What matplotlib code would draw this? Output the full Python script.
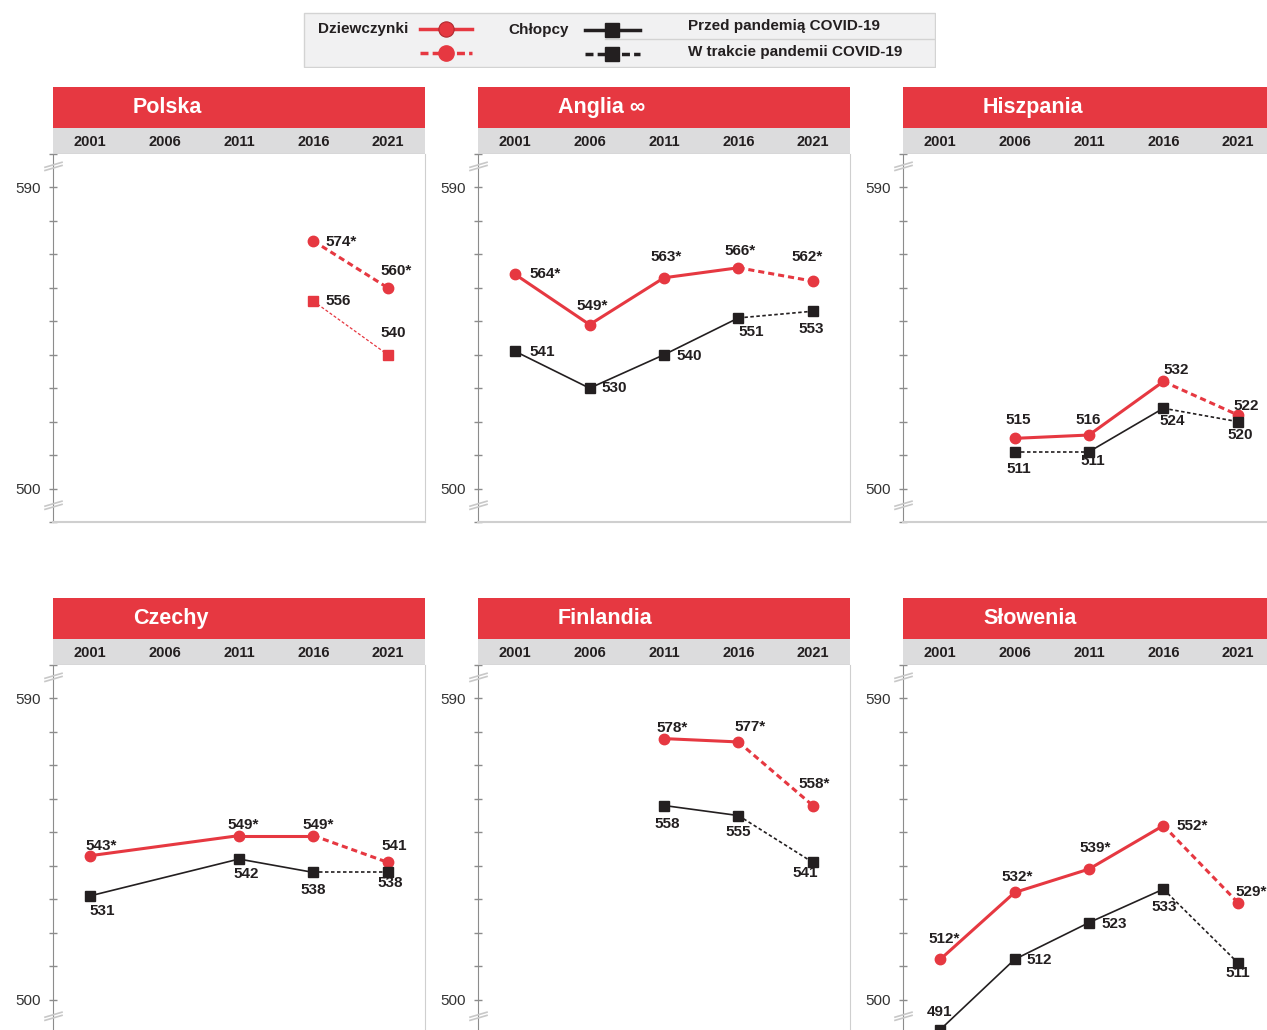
import matplotlib.pyplot as plt
import numpy as np
from matplotlib.patches import Rectangle

plt.rcParams['font.family'] = ['Liberation Sans', 'DejaVu Sans']

# Data
years = [2001, 2006, 2011, 2016, 2021]
countries = ['Polska', 'Anglia ∞', 'Hiszpania', 'Czechy', 'Finlandia', 'Słowenia']
nan = np.nan

girls = {
    'Polska':    [nan, nan, nan, 574, 560],
    'Anglia ∞':  [564, 549, 563, 566, 562],
    'Hiszpania': [nan, 515, 516, 532, 522],
    'Czechy':    [543, nan, 549, 549, 541],
    'Finlandia': [nan, nan, 578, 577, 558],
    'Słowenia':  [512, 532, 539, 552, 529],
}
boys = {
    'Polska':    [nan, nan, nan, 556, 540],
    'Anglia ∞':  [541, 530, 540, 551, 553],
    'Hiszpania': [nan, 511, 511, 524, 520],
    'Czechy':    [531, nan, 542, 538, 538],
    'Finlandia': [nan, nan, 558, 555, 541],
    'Słowenia':  [491, 512, 523, 533, 511],
}
# significant difference between girls and boys
girls_star = {
    'Polska':    [0, 0, 0, 1, 1],
    'Anglia ∞':  [1, 1, 1, 1, 1],
    'Hiszpania': [0, 0, 0, 0, 0],
    'Czechy':    [1, 0, 1, 1, 0],
    'Finlandia': [0, 0, 1, 1, 1],
    'Słowenia':  [1, 1, 1, 1, 1],
}
# segments drawn dashed besides the one ending in 2021 (index of start point)
extra_dashed = {('Hiszpania', 'b', 1)}

# label offsets (pixels, dx right, dy down)
label_off = {
    'Polska': {'g': [None, None, None, (28, 1), (8, -17)],
               'b': [None, None, None, (25, 0), (5, -22)]},
    'Anglia ∞': {'g': [(30, 0), (3, -19), (2, -21), (2, -17), (-6, -24)],
                 'b': [(27, 1), (25, 0), (25, 1), (13, 14), (-2, 18)]},
    'Hiszpania': {'g': [None, (4, -18), (-1, -15), (13, -11), (8, -9)],
                  'b': [None, (4, 17), (4, 9), (9, 13), (2, 13)]},
    'Czechy': {'g': [(11, -10), None, (4, -11), (5, -11), (6, -16)],
               'b': [(12, 15), None, (7, 15), (0, 18), (2, 11)]},
    'Finlandia': {'g': [None, None, (8, -11), (12, -15), (1, -22)],
                  'b': [None, None, (3, 18), (0, 16), (-8, 11)]},
    'Słowenia': {'g': [(4, -20), (3, -15), (6, -21), (29, 0), (13, -11)],
                 'b': [(-1, -18), (25, 1), (25, 1), (1, 18), (0, 10)]},
}

RED = '#e63841'
BLACK = '#231f20'
GRAY = '#dcdcdd'

W, H = 1267, 1030
fig = plt.figure(figsize=(W / 100, H / 100), dpi=100)


def px_rect(x0, y0, x1, y1):
    return [x0 / W, (H - y1) / H, (x1 - x0) / W, (y1 - y0) / H]


col_left = [53, 478, 903]
row_top = [87, 598]
PW = 372

for k, c in enumerate(countries):
    left = col_left[k % 3]
    htop = row_top[k // 3]
    ptop = htop + 67
    pbot = ptop + 368

    ax = fig.add_axes(px_rect(left, ptop, left + PW, pbot))
    ax.set_xlim(1998.5, 2023.5)
    ax.set_ylim(490, 600)
    ax.set_xticks([])
    ax.set_yticks(range(490, 601, 10))
    ax.set_yticklabels(['500' if t == 500 else '590' if t == 590 else '' for t in range(490, 601, 10)])
    ax.tick_params(axis='y', direction='inout', length=6, width=1, color='#8c8c8c',
                   labelsize=11, labelcolor='#333333', pad=6)
    ax.spines['top'].set_visible(False)
    ax.spines['left'].set_color('#8c8c8c')
    ax.spines['right'].set_color('#cfcfcf')
    ax.spines['bottom'].set_color('#cfcfcf')
    ax.spines['bottom'].set_linewidth(1.5)

    # axis break marks
    for yv in (596.3, 495.0):
        for s in (-1.6, 1.6):
            ax.plot([-8 / PW, 9 / PW], [yv + (s - 2.5) / 3.356, yv + (s + 2.5) / 3.356],
                    transform=ax.get_yaxis_transform(), color='#c8c8c8', lw=1.2,
                    clip_on=False, zorder=4)

    x = np.array(years)
    for sex, data in (('g', girls), ('b', boys)):
        v = np.array(data[c], dtype=float)
        if sex == 'g':
            col, mk, ms, lw, dash = RED, 'o', 7.5, 2.2, (0, (2.0, 1.3))
        else:
            col, mk, ms, lw, dash = BLACK, 's', 7.5, 1.2, (0, (2.1, 1.5))
            if c == 'Polska':
                col, lw, dash = RED, 0.9, (0, (2.4, 1.6))
        idx = [i for i in range(len(years)) if np.isfinite(v[i])]
        for a, b in zip(idx[:-1], idx[1:]):
            dashed = (b == len(years) - 1) or ((c, sex, a) in extra_dashed)
            ax.plot(x[[a, b]], v[[a, b]], color=col, lw=lw,
                    ls=dash if dashed else '-', zorder=2 if sex == 'g' else 3)
        ax.plot(x, v, ls='none', marker=mk, ms=ms, color=col, mec=col,
                zorder=2.5 if sex == 'g' else 3.5)
        for i in idx:
            txt = f'{int(v[i])}' + ('*' if sex == 'g' and girls_star[c][i] else '')
            dx, dy = label_off[c][sex][i]
            ax.annotate(txt, (x[i], v[i]), xytext=(dx, -dy), textcoords='offset pixels',
                        ha='center', va='center', fontsize=11, fontweight='bold',
                        color=BLACK, zorder=6, annotation_clip=False)

    # header
    hdr = fig.add_axes(px_rect(left, htop, left + PW, ptop))
    hdr.set_xlim(1998.5, 2023.5)
    hdr.set_ylim(67, 0)
    hdr.axis('off')
    hdr.axhspan(0, 41, color=RED, lw=0)
    hdr.axhspan(41, 67, color=GRAY, lw=0)
    hdr.axhline(66.5, color='#c4c4c4', lw=1)
    hdr.text(80 / PW, 1 - 20.5 / 67, c, transform=hdr.transAxes, ha='left', va='center',
             fontsize=15.5, fontweight='bold', color='white')
    for yr in years:
        hdr.text(yr, 55, str(yr), ha='center', va='center', fontsize=10.5,
                 fontweight='bold', color=BLACK)

# legend
lg = fig.add_axes(px_rect(303, 12, 936, 68))
lg.set_xlim(303, 936)
lg.set_ylim(68, 12)
lg.axis('off')
lg.add_patch(Rectangle((304, 13), 631, 54, facecolor='#f1f1f2', edgecolor='#d3d3d3', lw=1))
lg.plot([605, 935], [39, 39], color='#d3d3d3', lw=1)
lg.text(318, 29, 'Dziewczynki', ha='left', va='center', fontsize=11, fontweight='bold', color=BLACK)
lg.text(508, 30, 'Chłopcy', ha='left', va='center', fontsize=11, fontweight='bold', color=BLACK)
lg.text(688, 26, 'Przed pandemią COVID-19', ha='left', va='center', fontsize=11,
        fontweight='bold', color=BLACK)
lg.text(688, 52, 'W trakcie pandemii COVID-19', ha='left', va='center', fontsize=11,
        fontweight='bold', color=BLACK)
lg.plot([420, 472], [29, 29], color=RED, lw=2.5)
lg.plot([446], [29], marker='o', ms=11, color=RED, mec='#b02a30', mew=0.8)
lg.plot([420, 472], [53, 53], color=RED, lw=2.5, ls=(0, (2.3, 1.2)))
lg.plot([446], [53], marker='o', ms=11, color=RED, mec=RED)
lg.plot([585, 640], [30, 30], color=BLACK, lw=2.5)
lg.plot([612], [30], marker='s', ms=10, color=BLACK)
lg.plot([585, 640], [54, 54], color=BLACK, lw=2.5, ls=(0, (2.3, 1.2)))
lg.plot([612], [54], marker='s', ms=10, color=BLACK)

fig.savefig('out.png', dpi=100)
